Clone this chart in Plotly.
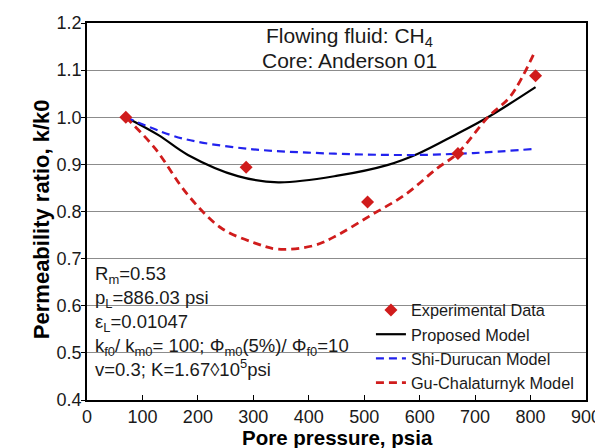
import plotly.graph_objects as go

# Experimental data
exp_p = [70, 287, 506, 669, 809]
exp_k = [1.0, 0.894, 0.820, 0.923, 1.088]

# Proposed model
prop_p = [70, 129, 182, 272, 345, 452, 543, 596, 663, 723, 809]
prop_k = [1.0, 0.962, 0.920, 0.875, 0.862, 0.876, 0.899, 0.922, 0.962, 1.0, 1.064]

# Shi-Durucan model
shi_p = [70, 149, 199, 299, 398, 498, 597, 697, 809]
shi_k = [1.0, 0.963, 0.948, 0.932, 0.925, 0.921, 0.920, 0.924, 0.933]

# Gu-Chalaturnyk model
gu_p = [70, 122, 182, 242, 303, 345, 410, 452, 512, 573, 632, 668, 723, 764, 806]
gu_k = [1.0, 0.935, 0.835, 0.765, 0.733, 0.720, 0.728, 0.750, 0.792, 0.835, 0.892, 0.923, 1.0, 1.045, 1.135]

x_ticks = [0, 100, 200, 300, 400, 500, 600, 700, 800, 900]
y_ticks = [0.4, 0.5, 0.6, 0.7, 0.8, 0.9, 1.0, 1.1, 1.2]

FONT = "Liberation Sans, Arial, sans-serif"
TXT = "#1a1a1a"
RED = "#d01c1c"
BLUE = "#2222ee"

fig = go.Figure()
fig.add_trace(go.Scatter(x=prop_p, y=prop_k, mode="lines", name="Proposed Model",
                         line=dict(color="black", width=2.2, shape="spline"), legendrank=2))
fig.add_trace(go.Scatter(x=shi_p, y=shi_k, mode="lines", name="Shi-Durucan Model",
                         line=dict(color=BLUE, width=2.2, dash="8px,5px", shape="spline"), legendrank=3))
fig.add_trace(go.Scatter(x=gu_p, y=gu_k, mode="lines", name="Gu-Chalaturnyk Model",
                         line=dict(color=RED, width=2.8, dash="8px,5px", shape="spline"), legendrank=4))
fig.add_trace(go.Scatter(x=exp_p, y=exp_k, mode="markers", name="Experimental Data",
                         marker=dict(symbol="diamond", size=10, color=RED), legendrank=1))

fig.update_xaxes(range=[0, 900], tickvals=x_ticks, ticks="inside", ticklen=5, tickcolor="black",
                 showline=True, linecolor="black", linewidth=1.5, mirror=True, showgrid=False,
                 zeroline=False, automargin=False, ticklabelstandoff=0,
                 tickfont=dict(size=18, color=TXT))
fig.update_yaxes(range=[0.4, 1.2], tickvals=y_ticks, tickformat=".1f", ticks="outside", ticklen=4,
                 tickcolor="black", showline=True, linecolor="black", linewidth=1.5, mirror=True,
                 showgrid=True, gridcolor="#8c8c8c", gridwidth=1, zeroline=False, automargin=False,
                 ticklabelstandoff=-4, tickfont=dict(size=18, color=TXT))

# axis titles
fig.add_annotation(text="<b>Pore pressure, psia</b>", x=0.503, y=-0.0997, xref="paper", yref="paper",
                   xanchor="center", yanchor="middle", showarrow=False, borderpad=0,
                   font=dict(size=20.5, color="black", family=FONT))
fig.add_annotation(text="<b>Permeability ratio, k/k0</b>", x=-0.092, y=0.48, xref="paper", yref="paper",
                   xanchor="center", yanchor="middle", showarrow=False, textangle=-90,
                   font=dict(size=22, color="black", family=FONT))

# header text
fig.add_annotation(text="Flowing fluid: CH<sub>4</sub>", x=0.527, y=0.964, xref="paper", yref="paper",
                   xanchor="center", yanchor="middle", showarrow=False, borderpad=0,
                   font=dict(size=21, color=TXT, family=FONT))
fig.add_annotation(text="Core: Anderson 01", x=0.527, y=0.901, xref="paper", yref="paper",
                   xanchor="center", yanchor="middle", showarrow=False, borderpad=0,
                   font=dict(size=21, color=TXT, family=FONT))

params = [
    "R<sub>m</sub>=0.53",
    "p<sub>L</sub>=886.03 psi",
    "ε<sub>L</sub>=0.01047",
    "k<sub>f0</sub>/ k<sub>m0</sub>= 100; Φ<sub>m0</sub>(5%)/ Φ<sub>f0</sub>=10",
    "v=0.3; K=1.67◊10<sup>5</sup>psi",
]
fig.add_annotation(text="<br>".join(params), x=0.012, y=0.208, xref="paper", yref="paper",
                   xanchor="left", yanchor="middle", showarrow=False, align="left",
                   font=dict(size=18.5, color=TXT, family=FONT))

fig.update_layout(
    width=603, height=448,
    margin=dict(l=79, r=25, t=15, b=56),
    plot_bgcolor="white", paper_bgcolor="white",
    font=dict(family=FONT, color=TXT),
    showlegend=True,
    legend=dict(x=0.569, y=0.284, xanchor="left", yanchor="top", bgcolor="rgba(0,0,0,0)",
                font=dict(size=16.3, color=TXT), tracegroupgap=0, itemwidth=30),
)

fig.write_html("out.html")
